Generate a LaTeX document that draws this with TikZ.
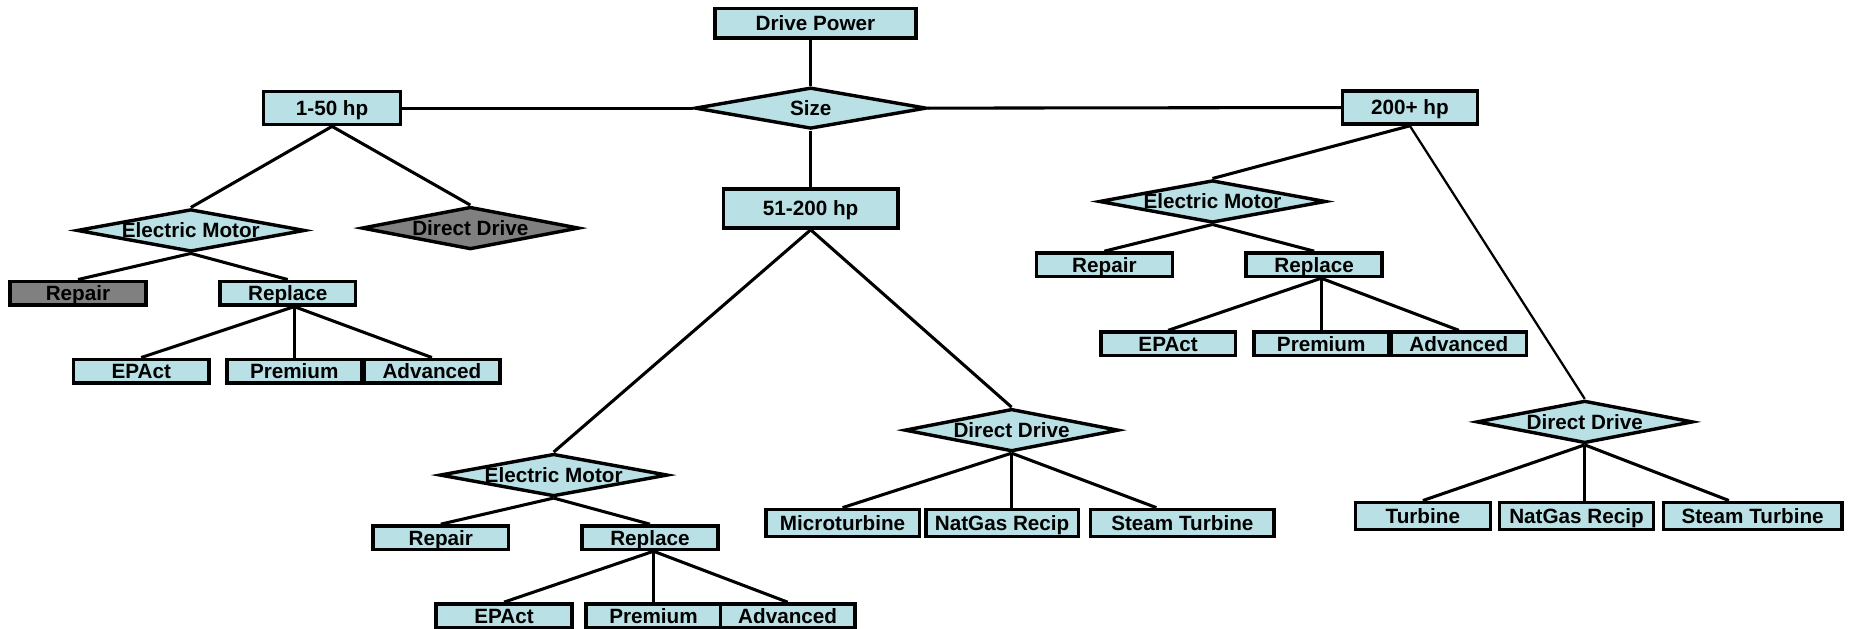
\documentclass[tikz,border=0pt]{standalone}
\usepackage{fontspec}
\setmainfont{Liberation Sans}
\usetikzlibrary{shapes.geometric,positioning}
\definecolor{boxcyan}{RGB}{185,224,228}
\definecolor{boxgrey}{RGB}{128,128,128}

\begin{document}
\begin{tikzpicture}[x=1pt, y=-1pt, node distance=116pt, block/.style={rectangle, draw, fill=boxcyan, line width=2.9pt, minimum width=115pt, minimum height=20pt, inner sep=0pt, text height=12.5pt, text depth=0pt, font=\fontsize{17.5}{20}\selectfont\bfseries}, decision/.style={block, diamond, aspect=5.3, inner sep=-2pt, minimum width=193pt, minimum height=36pt}, off/.style={fill=boxgrey}, link/.style={line width=2.6pt}]
  {
  \useasboundingbox (0,0) rectangle (1568,532);
  % top of the tree
  \node[block, minimum width=170pt, minimum height=25pt] (power) at (690,19.5) {Drive Power};
  \node[decision, minimum width=196pt, minimum height=35pt] (size) at (686,91.5) {Size};
  \node[block, minimum width=116pt, minimum height=28pt] (small) at (281,91.5) {1-50 hp};
  \node[block, minimum width=148pt, minimum height=33pt] (medium) at (686,176.5) {51-200 hp};
  \node[block, minimum width=114pt, minimum height=28pt] (large) at (1193,91) {200+ hp};

  % 1-50 hp
  \node[decision] (motorA) at (161.5,195) {Electric Motor};
  \node[decision, off, minimum width=184pt] (directA) at (398,193) {Direct Drive};
  \node[block, off] (repairA) at (66,248) {Repair};
  \node[block, right of=repairA, node distance=177.5pt] (replaceA) {Replace};
  \node[block] (epactA) at (119.5,314) {EPAct};
  \node[block, right of=epactA, node distance=129.5pt, minimum width=114pt] (premiumA) {Premium};
  \node[block, right of=premiumA, node distance=116.5pt] (advancedA) {Advanced};
  \coordinate (forkA) at (premiumA.north |- replaceA.south);

  % 51-200 hp
  \node[decision] (motorB) at (468.5,402) {Electric Motor};
  \node[block] (repairB) at (373,455) {Repair};
  \node[block, right of=repairB, node distance=177pt] (replaceB) {Replace};
  \node[block] (epactB) at (426.5,521) {EPAct};
  \node[block, right of=epactB, node distance=126.5pt, minimum width=114pt] (premiumB) {Premium};
  \node[block, right of=premiumB, node distance=113.5pt, minimum width=114pt] (advancedB) {Advanced};
  \coordinate (forkB) at (premiumB.north |- replaceB.south);
  \node[decision, minimum width=181pt] (directB) at (856,364) {Direct Drive};
  \node[block, minimum width=130pt, minimum height=23pt] (microB) at (713,442.5) {Microturbine};
  \node[block, right of=microB, node distance=135pt, minimum width=129pt, minimum height=23pt] (gasB) {NatGas Recip};
  \node[block, right of=gasB, node distance=152.5pt, minimum width=155pt, minimum height=23pt] (steamB) {Steam Turbine};

  % 200+ hp
  \node[decision, minimum width=192pt] (motorC) at (1026,170.5) {Electric Motor};
  \node[block] (repairC) at (934.5,224) {Repair};
  \node[block, right of=repairC, node distance=177.5pt] (replaceC) {Replace};
  \node[block, minimum width=114pt] (epactC) at (988.5,291) {EPAct};
  \node[block, right of=epactC, node distance=129.5pt, minimum width=114pt] (premiumC) {Premium};
  \node[block, right of=premiumC, node distance=116.5pt, minimum width=114pt] (advancedC) {Advanced};
  \coordinate (forkC) at (premiumC.north |- replaceC.south);
  \node[decision, minimum width=183pt] (directC) at (1341,357) {Direct Drive};
  \node[block, minimum width=114pt, minimum height=23pt] (turbC) at (1204,436.5) {Turbine};
  \node[block, right of=turbC, node distance=130pt, minimum width=130pt, minimum height=23pt] (gasC) {NatGas Recip};
  \node[block, right of=gasC, node distance=149pt, minimum width=151pt, minimum height=23pt] (steamC) {Steam Turbine};

  \draw[link] (size.north) -- (size.north |- power.south);
  \draw[link] (size.west) -- (small.east);
  \draw[link] (size.east) -- (large.west);
  \draw[link] (size.south) -- (medium.north);

  \draw[link] (small.south) -- (motorA.north);
  \draw[link] (small.south) -- (directA.north);
  \draw[link] (motorA.south) -- (repairA.north);
  \draw[link] (motorA.south) -- (replaceA.north);
  \draw[link] (forkA) -- (epactA.north);
  \draw[link] (forkA) -- (premiumA.north);
  \draw[link] (forkA) -- (advancedA.north);

  \draw[link] (medium.south) -- (motorB.north);
  \draw[link] (medium.south) -- (directB.north);
  \draw[link] (motorB.south) -- (repairB.north);
  \draw[link] (motorB.south) -- (replaceB.north);
  \draw[link] (forkB) -- (epactB.north);
  \draw[link] (forkB) -- (premiumB.north);
  \draw[link] (forkB) -- (advancedB.north);
  \draw[link] (directB.south) -- (microB.north);
  \draw[link] (directB.south) -- (directB.south |- gasB.north);
  \draw[link] (directB.south) -- ([xshift=-22pt]steamB.north);

  \draw[link] (large.south) -- (motorC.north);
  \draw[link, line width=1.9pt] (large.south) -- (directC.north);
  \draw[link] (motorC.south) -- (repairC.north);
  \draw[link] (motorC.south) -- (replaceC.north);
  \draw[link] (forkC) -- (epactC.north);
  \draw[link] (forkC) -- (premiumC.north);
  \draw[link] (forkC) -- (advancedC.north);
  \draw[link] (directC.south) -- (turbC.north);
  \draw[link] (directC.south) -- (directC.south |- gasC.north);
  \draw[link] (directC.south) -- ([xshift=-20pt]steamC.north);
  }
\end{tikzpicture}
\end{document}
